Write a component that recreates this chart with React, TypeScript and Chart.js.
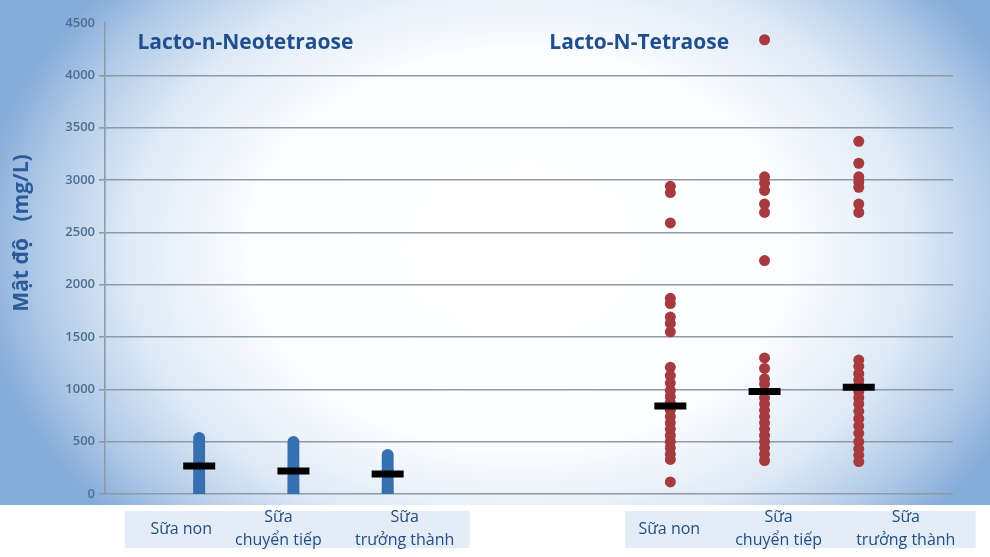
import React, { useEffect, useRef } from "react";
import { Chart, registerables } from "chart.js";

Chart.register(...registerables);

// ---- data ----
const groupTitles = ["Lacto-n-Neotetraose", "Lacto-N-Tetraose"];
const stageLabels: string[][] = [
  ["Sữa non"],
  ["Sữa", "chuyển tiếp"],
  ["Sữa", "trưởng thành"],
];
const lnntPositions = [1, 2, 3];
const lntPositions = [6, 7, 8];

const lnntColostrum = [534, 508, 482, 456, 430, 402, 374, 346, 318, 290, 262, 236, 210, 184, 158, 132, 108, 84, 62, 44, 24, 6];
const lnntTransitional = [496, 470, 442, 414, 386, 358, 330, 302, 274, 246, 218, 190, 162, 136, 110, 84, 58, 34, 12];
const lnntMature = [372, 346, 320, 292, 264, 236, 208, 180, 152, 126, 100, 74, 50, 26, 6];

const lntColostrum = [2940, 2880, 2590, 1870, 1820, 1690, 1630, 1550, 1210, 1130, 1060, 990, 930, 870, 800, 740, 680, 620, 560, 500, 440, 380, 330, 115];
const lntTransitional = [4340, 3030, 2970, 2900, 2770, 2690, 2230, 1300, 1200, 1100, 1050, 980, 920, 860, 800, 740, 680, 620, 560, 500, 440, 380, 320];
const lntMature = [3370, 3160, 3030, 2980, 2930, 2770, 2690, 1280, 1220, 1150, 1090, 1040, 980, 920, 860, 790, 720, 650, 580, 500, 430, 370, 310];

const lnntMedians = [267, 220, 190];
const lntMedians = [840, 980, 1020];

const yTicks = [0, 500, 1000, 1500, 2000, 2500, 3000, 3500, 4000, 4500];
const yTitle = "Mật độ   (mg/L)";

// ---- layout constants (not data) ----
const titleAnchors = [1.49, 5.67];
const labelNudges = [-18, -15, 17, -1, 14, 47];
const boxRanges = [
  [0.21, 3.87],
  [5.52, 9.24],
];

const BLUE = "rgb(54,112,176)";
const RED = "rgb(166,58,62)";
const FONT = "'Open Sans', 'Noto Sans', sans-serif";

function pts(xs: number, ys: number[]) {
  return ys.map((y) => ({ x: xs, y }));
}

export default function App() {
  const ref = useRef<HTMLCanvasElement | null>(null);

  useEffect(() => {
    document.body.style.margin = "0";
    const canvas = ref.current;
    if (!canvas) return;

    const bgPlugin = {
      id: "bg",
      beforeDraw(chart: any) {
        const { ctx, width, chartArea } = chart;
        const H = chart.height;
        const bgBottom = chartArea.bottom + 11;
        ctx.save();
        ctx.fillStyle = "#ffffff";
        ctx.fillRect(0, 0, width, H);
        // radial elliptical gradient
        ctx.save();
        ctx.beginPath();
        ctx.rect(0, 0, width, bgBottom);
        ctx.clip();
        const cx = 520, cy = 250, rx = 545, ry = 400;
        ctx.translate(cx, cy);
        ctx.scale(rx, ry);
        const g = ctx.createRadialGradient(0, 0, 0, 0, 0, 1);
        g.addColorStop(0, "#ffffff");
        g.addColorStop(0.5, "#fbfdff");
        g.addColorStop(0.72, "#dfeaf6");
        g.addColorStop(0.88, "#b2cbe8");
        g.addColorStop(1, "#86acd9");
        ctx.fillStyle = g;
        ctx.fillRect(-2, -2, 4, 4);
        ctx.restore();
        // label boxes
        const xs = chart.scales.x;
        ctx.fillStyle = "#e3ecf7";
        boxRanges.forEach(([a, b]) => {
          const l = xs.getPixelForValue(a);
          const r = xs.getPixelForValue(b);
          ctx.fillRect(l, chartArea.bottom + 17, r - l, 37);
        });
        ctx.restore();
      },
      afterDraw(chart: any) {
        const { ctx, chartArea } = chart;
        const xs = chart.scales.x;
        ctx.save();
        // group titles
        ctx.fillStyle = "#1f4f8f";
        ctx.font = `bold 21px ${FONT}`;
        ctx.textAlign = "center";
        ctx.textBaseline = "middle";
        groupTitles.forEach((t, i) => {
          ctx.fillText(t, xs.getPixelForValue(titleAnchors[i]), 43);
        });
        // category labels
        ctx.fillStyle = "#244f80";
        ctx.font = `16px ${FONT}`;
        const positions = [...lnntPositions, ...lntPositions];
        positions.forEach((p, i) => {
          const lines = stageLabels[i % 3];
          const cx = xs.getPixelForValue(p) + labelNudges[i];
          const base = chartArea.bottom + 35;
          if (lines.length === 1) {
            ctx.fillText(lines[0], cx, base);
          } else {
            ctx.fillText(lines[0], cx, base - 12);
            ctx.fillText(lines[1], cx, base + 11);
          }
        });
        // y title
        ctx.translate(22, 233);
        ctx.rotate(-Math.PI / 2);
        ctx.fillStyle = "#2a5a98";
        ctx.font = `bold 21px ${FONT}`;
        ctx.fillText(yTitle, 0, 0);
        ctx.restore();
      },
    };

    const chart = new Chart(canvas, {
      type: "scatter",
      data: {
        datasets: [
          ...[lnntColostrum, lnntTransitional, lnntMature].map((vals, i) => ({
            data: pts(lnntPositions[i], vals),
            backgroundColor: BLUE,
            borderColor: BLUE,
            borderWidth: 0,
            pointRadius: 6,
            order: 2,
          })),
          ...[lntColostrum, lntTransitional, lntMature].map((vals, i) => ({
            data: pts(lntPositions[i], vals),
            backgroundColor: RED,
            borderColor: RED,
            borderWidth: 0,
            pointRadius: 5.5,
            order: 2,
          })),
          {
            data: [
              ...lnntMedians.map((m, i) => ({ x: lnntPositions[i], y: m })),
              ...lntMedians.map((m, i) => ({ x: lntPositions[i], y: m })),
            ],
            pointStyle: "line",
            pointRadius: 16,
            borderWidth: 7,
            borderColor: "#000000",
            backgroundColor: "#000000",
            order: 1,
          },
        ],
      },
      options: {
        animation: false,
        responsive: false,
        maintainAspectRatio: false,
        layout: { padding: { left: 0, right: 37, top: 22, bottom: 63 } },
        plugins: {
          legend: { display: false },
          tooltip: { enabled: false },
        },
        scales: {
          x: {
            type: "linear",
            min: 0,
            max: 9,
            display: false,
          },
          y: {
            min: 0,
            max: 4500,
            afterFit: (s: any) => {
              s.width = 105;
            },
            afterBuildTicks: (s: any) => {
              s.ticks = yTicks.map((v) => ({ value: v }));
            },
            grid: {
              color: (c: any) => (c.tick && c.tick.value === 4500 ? "rgba(0,0,0,0)" : "#8e9aa6"),
              lineWidth: 1.6,
              tickLength: 6,
            },
            border: { display: true, color: "#8e9aa6", width: 1.6 },
            ticks: {
              padding: 4,
              color: "#4f6e8f",
              font: { family: FONT, size: 13, weight: 600 as any },
              callback: (v: any) => String(v),
            },
          },
        },
      },
      plugins: [bgPlugin],
    });

    return () => chart.destroy();
  }, []);

  return (
    <div style={{ position: "fixed", left: 0, top: 0, width: 990, height: 557 }}>
      <canvas ref={ref} width={990} height={557} style={{ width: 990, height: 557 }} />
    </div>
  );
}
